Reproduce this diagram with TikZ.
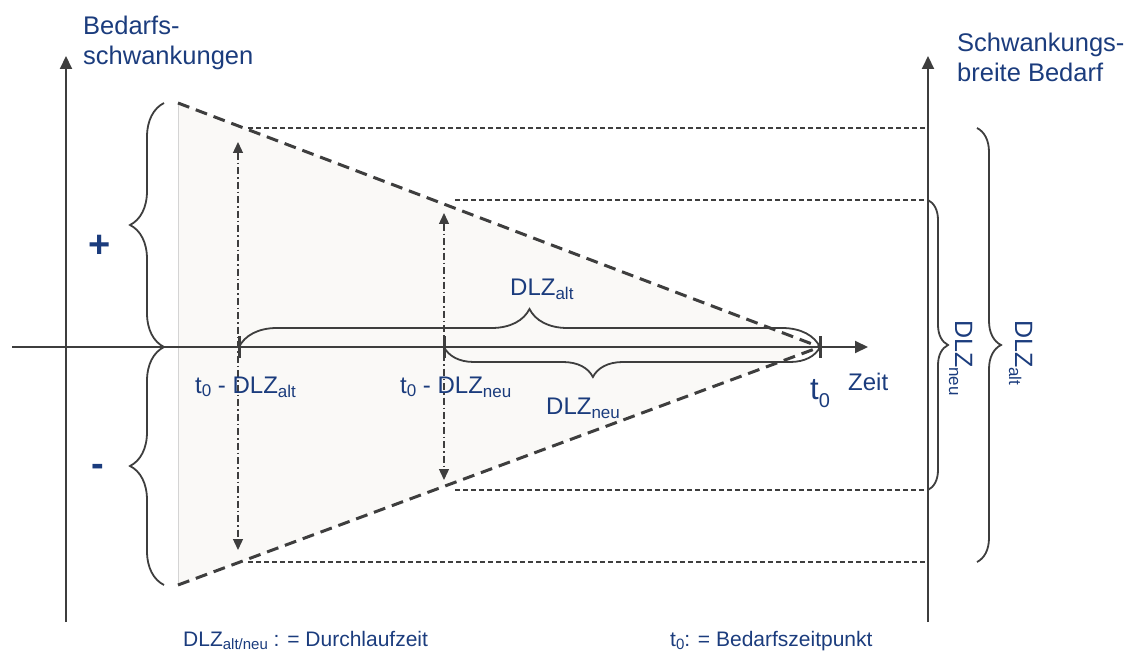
\documentclass[tikz,border=0pt]{standalone}
\usepackage{fontspec}
\setmainfont{Liberation Sans}
\usetikzlibrary{arrows.meta,decorations.pathreplacing}
\definecolor{txtblue}{RGB}{27,60,125}
\definecolor{linegray}{RGB}{62,62,62}
\definecolor{fillgray}{RGB}{250,249,247}
\definecolor{edgegray}{RGB}{212,212,212}
\newcommand\fs[1]{\fontsize{#1}{#1}\selectfont}
\newcommand\dsub[3]{\raisebox{-#1pt}{\fs{#2}#3}}
\begin{document}
\begin{tikzpicture}[x=1pt,y=-1pt,
  lbl/.style={text=txtblue, inner sep=0pt, anchor=base west, font=\fs{24}},
  axisline/.style={draw=linegray, line width=2pt, -{Triangle[length=13pt,width=12pt]}},
  trianglemark/.style={draw=linegray, line width=3pt, dash pattern=on 12pt off 7pt},
  guideline/.style={draw=linegray, line width=1.3pt, dash pattern=on 5pt off 3pt},
  bracestyle/.style={draw=linegray, line width=1.8pt, decorate, decoration={brace, amplitude=#1}},
  dlzspan/.style={draw=linegray, line width=1.3pt, dash pattern=on 7pt off 3pt on 1.5pt off 3pt,
     {Triangle[length=11pt,width=10pt]}-{Triangle[length=11pt,width=10pt]}},
  tickmark/.style={draw=linegray, line width=3pt}]
\useasboundingbox (0,0) rectangle (1135,655);
% corner points
\coordinate (TL) at (178,103);
\coordinate (BL) at (178,585);
\coordinate (T0) at (820,347);
\coordinate (A) at (239,347);
\coordinate (N) at (444,347);
% shaded funnel
\fill[fillgray] (TL) -- (T0) -- (BL) -- cycle;
\draw[edgegray, line width=0.8pt] (TL) -- (BL);
% axes
\coordinate (xs) at (12,347); \coordinate (xe) at (868,347);
\coordinate (ys) at (66,622); \coordinate (ye) at (66,56);
\coordinate (rs) at (928,622); \coordinate (re) at (928,56);
\draw[axisline] (xs) -- (xe);
\draw[axisline] (ys) -- (ye);
\draw[axisline] (rs) -- (re);
% guide lines
\coordinate (g1a) at (248,128); \coordinate (g1b) at (928,128);
\coordinate (g2a) at (455,200); \coordinate (g2b) at (928,200);
\coordinate (g3a) at (455,490); \coordinate (g3b) at (928,490);
\coordinate (g4a) at (248,562); \coordinate (g4b) at (928,562);
\draw[guideline] (g1a) -- (g1b);
\draw[guideline] (g2a) -- (g2b);
\draw[guideline] (g3a) -- (g3b);
\draw[guideline] (g4a) -- (g4b);
% funnel edges
\draw[trianglemark] (TL) -- (T0);
\draw[trianglemark] (BL) -- (T0);
% ticks
\draw[tickmark] ([yshift=11pt]A) -- ([yshift=-11pt]A);
\draw[tickmark] ([yshift=11pt]N) -- ([yshift=-11pt]N);
\draw[tickmark] ([yshift=11pt]T0) -- ([yshift=-11pt]T0);
% braces
\coordinate (lbU) at (164,103); \coordinate (lbM) at (164,347); \coordinate (lbD) at (164,585);
\draw[bracestyle=34] (lbM) -- (lbU);
\draw[bracestyle=34] (lbD) -- (lbM);
\draw[bracestyle=38] (A) -- (T0);
\draw[bracestyle=30, decoration={mirror, aspect=0.396}] (N) -- (T0);
\draw[bracestyle=20] (g2b) -- (g3b);
\coordinate (rbU) at (977,128); \coordinate (rbD) at (977,562);
\draw[bracestyle=24] (rbU) -- (rbD);
% lead time spans
\coordinate (aU) at (238,142); \coordinate (aD) at (238,550);
\coordinate (nU) at (444,213); \coordinate (nD) at (444,480);
\draw[dlzspan] (aU) -- (aD);
\draw[dlzspan] (nU) -- (nD);
% texts
\node[lbl, font={\fontsize{25.5}{30}\selectfont}, align=left] (ylab) at (83,65) {Bedarfs-\\schwankungen};
\node[lbl, font={\fontsize{25.5}{30}\selectfont}, align=left] (rlab) at (957,82) {Schwankungs-\\breite Bedarf};
\node[lbl, anchor=base, font=\bfseries\fs{38}] (plus) at (100,257) {+};
\node[lbl, anchor=base, font=\bfseries\fs{38}] (minus) at (98,476) {-};
\node[lbl] (lalt) at (195,393) {t\dsub{3}{17}{0} - DLZ\dsub{4}{17}{alt}};
\node[lbl] (lneu) at (400,393) {t\dsub{3}{17}{0} - DLZ\dsub{4}{17}{neu}};
\node[lbl] (dalt) at (510,295) {DLZ\dsub{4}{17}{alt}};
\node[lbl] (dneu) at (546,414) {DLZ\dsub{4}{17}{neu}};
\node[lbl] (tnull) at (810,399) {\fs{31}t\dsub{8}{20}{0}};
\node[lbl] (zeit) at (848,390) {Zeit};
\node[lbl, rotate=-90, font=\fs{25}] (rneu) at (955,320) {DLZ\dsub{6}{17}{neu}};
\node[lbl, rotate=-90, font=\fs{25}] (ralt) at (1015,320) {DLZ\dsub{6}{17}{alt}};
\node[lbl, font=\fs{21}] (f1) at (183,646) {DLZ\dsub{3}{15}{alt/neu} : = Durchlaufzeit};
\node[lbl, font=\fs{21}] (f2) at (670,646) {t\dsub{3}{15}{0}: = Bedarfszeitpunkt};
\end{tikzpicture}
\end{document}
